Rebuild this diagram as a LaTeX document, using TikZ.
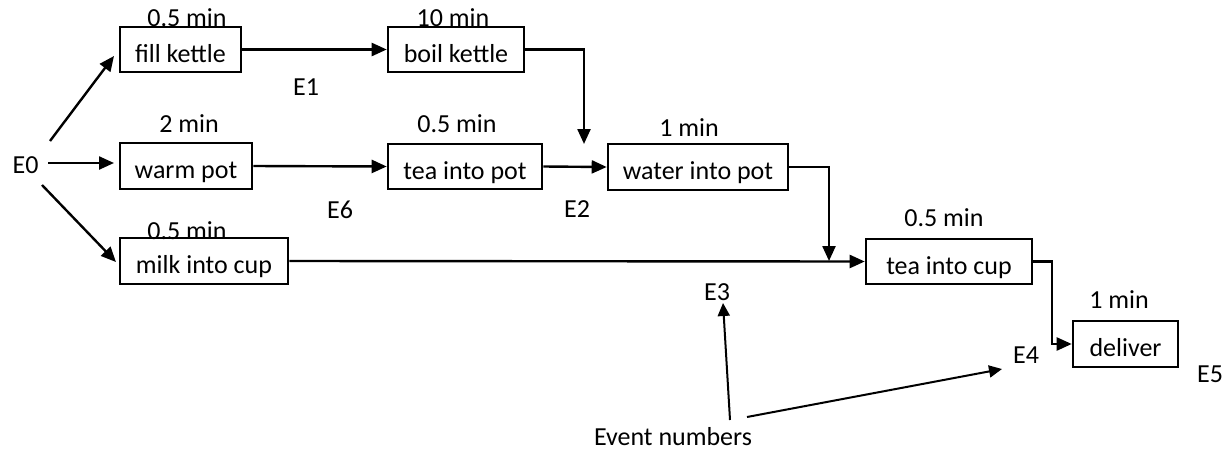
\documentclass[tikz,border=0pt]{standalone}
\usepackage{fontspec}
\setmainfont{Carlito}
\usetikzlibrary{arrows.meta}
\begin{document}
\begin{tikzpicture}[x=1pt,y=-1pt,
  font=\fontsize{26}{30}\selectfont,
  box/.style={draw, line width=2.6pt, inner sep=0pt, minimum height=45pt,
    text height=27pt, text depth=2pt},
  lbl/.style={anchor=base, inner sep=0pt},
  arr/.style={line width=2.4pt, -{Triangle[length=15pt,width=13pt]}},
  thinarr/.style={line width=2pt, -{Triangle[length=13pt,width=12pt]}}]
\useasboundingbox (0,0) rectangle (1222,453);

% activity boxes
\node[box, minimum width=121pt] (fk)  at (180.5,49.5) {fill kettle};
\node[box, minimum width=136pt] (bk)  at (456,49.5)   {boil kettle};
\node[box, minimum width=132pt, minimum height=46pt] (wp)  at (186,166) {warm pot};
\node[box, minimum width=154pt] (tp)  at (465,166.5)  {tea into pot};
\node[box, minimum width=180pt, minimum height=46pt] (wip) at (698,167) {water into pot};
\node[box, minimum width=168pt, minimum height=46pt] (mc)  at (204,261) {milk into cup};
\node[box, minimum width=166pt] (tc)  at (949,261.5)  {tea into cup};
\node[box, minimum width=105pt, minimum height=46pt] (dl)  at (1125.5,344) {deliver};

% durations
\node[lbl] (d1) at (187,26)  {0.5 min};
\node[lbl] (d2) at (453,26)  {10 min};
\node[lbl] (d3) at (189,132) {2 min};
\node[lbl] (d4) at (457,132) {0.5 min};
\node[lbl] (d5) at (689,136) {1 min};
\node[lbl] (d6) at (187,239) {0.5 min};
\node[lbl] (d7) at (944,226) {0.5 min};
\node[lbl] (d8) at (1119,308) {1 min};

% events
\node[lbl] (e0) at (25.5,173) {E0};
\node[lbl] (e1) at (306,95)   {E1};
\node[lbl] (e6) at (340,218)  {E6};
\node[lbl] (e2) at (577,217)  {E2};
\node[lbl] (e3) at (717,300)  {E3};
\node[lbl] (e4) at (1026,363) {E4};
\node[lbl] (e5) at (1210,382) {E5};
\node[lbl] (en) at (673,445)  {Event numbers};

% free ends
\coordinate (a0) at (50,141);
\coordinate (a1) at (114,56);
\coordinate (b0) at (48,163);
\coordinate (b1) at (114,163);
\coordinate (c0) at (42,185);
\coordinate (c1) at (116,262);
\coordinate (j2) at (584,144);
\coordinate (j3) at (829,261);
\coordinate (j4) at (1052,344);
\coordinate (n0) at (730,420);
\coordinate (n1) at (723,303);
\coordinate (m0) at (747,417);
\coordinate (m1) at (1002,369);

% connectors
\draw[arr] (a0) -- (a1);
\draw[arr] (b0) -- (b1);
\draw[arr] (c0) -- (c1);
\draw[arr] (fk.east) -- (bk.west);
\draw[arr] (bk.east) -| (j2);
\draw[arr] (wp.east) -- (tp.west);
\draw[arr] (tp.east) -- (wip.west);
\draw[arr] (wip.east) -| (j3);
\draw[arr] (mc.east) -- (tc.west);
\draw[arr] (tc.east) -| (j4) -- (dl.west);
\draw[thinarr] (n0) -- (n1);
\draw[thinarr] (m0) -- (m1);
\end{tikzpicture}
\end{document}
